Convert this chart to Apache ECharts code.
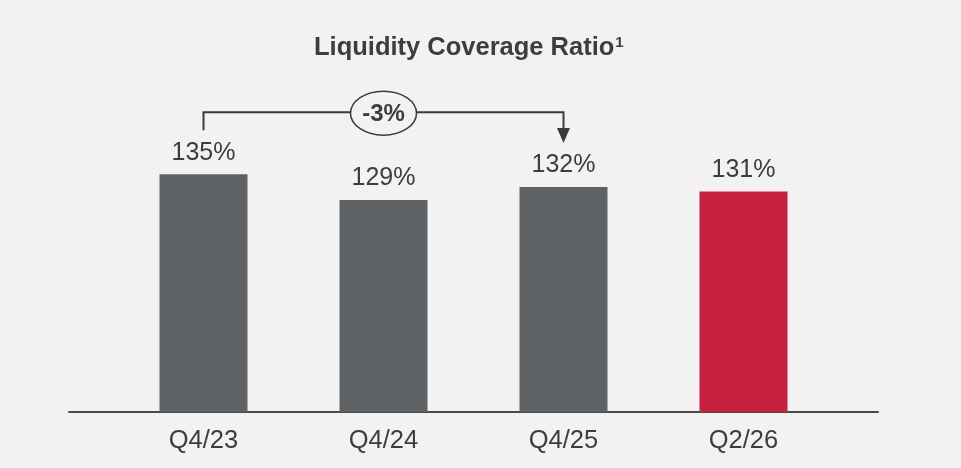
<!DOCTYPE html>
<html>
<head>
<meta charset="utf-8">
<script src="https://cdn.jsdelivr.net/npm/echarts@6/dist/echarts.min.js"></script>
<style>
    html, body { margin: 0; background: #f2f2f2; }
    #chart { width: 961px; height: 468px; }
</style>
</head>
<body>
<div id="chart"></div>
<script>
// data
const categories = ['Q4/23', 'Q4/24', 'Q4/25', 'Q2/26']
const ratios = [135, 129, 132, 131]
const highlight = [false, false, false, true]
const changeText = '-3%'
const changeFrom = 0
const changeTo = 2

const textColor = '#3c3d3f'
const font = '"Liberation Sans", Arial, sans-serif'

let chart = echarts.init(document.getElementById('chart'))

let option = {
    backgroundColor: '#f2f2f2',
    animation: false,
    title: {
        text: 'Liquidity Coverage Ratio{sup|1}',
        left: 309,
        top: 30,
        textStyle: {
            color: textColor, fontSize: 25.5, fontWeight: 'bold', fontFamily: font,
            rich: {
                sup: {color: textColor, fontSize: 15, fontWeight: 'bold', fontFamily: font,
                    verticalAlign: 'bottom', padding: [0, 0, 11, 1]}
            }
        }
    },
    grid: [
        {left: 113.5, right: 127.5, top: 66, bottom: 56},
        {left: 69, right: 83, top: 66, bottom: 56}
    ],
    xAxis: [
        {
            type: 'category',
            gridIndex: 0,
            data: categories,
            axisLine: {show: false},
            axisTick: {show: false},
            axisLabel: {color: textColor, fontSize: 25.5, fontFamily: font, margin: 16}
        },
        {
            type: 'value',
            gridIndex: 1,
            min: 0,
            max: 1,
            axisLine: {show: true, lineStyle: {color: '#4a4b4d', width: 2}},
            axisTick: {show: false},
            axisLabel: {show: false},
            splitLine: {show: false}
        }
    ],
    yAxis: [
        {type: 'value', gridIndex: 0, min: 80, max: 160, show: false},
        {type: 'value', gridIndex: 1, min: 0, max: 1, show: false}
    ],
    series: [
        {
            type: 'bar',
            xAxisIndex: 0,
            yAxisIndex: 0,
            barWidth: 88,
            z: 3,
            data: ratios.map((v, i) => ({
                value: v,
                itemStyle: {color: highlight[i] ? '#c81f3f' : '#5f6265'}
            })),
            label: {
                show: true,
                position: 'top',
                distance: 9,
                color: textColor,
                fontSize: 25,
                fontFamily: font,
                formatter: p => p.value + '%'
            }
        }
    ]
}
chart.setOption(option)

// bracket with change bubble
let p0 = chart.convertToPixel({gridIndex: 0}, [changeFrom, ratios[changeFrom]])
let p1 = chart.convertToPixel({gridIndex: 0}, [changeTo, ratios[changeTo]])
let topY = Math.min(p0[1], p1[1]) - 62
let startY = p0[1] - 44
let tipY = p1[1] - 44
let midX = (p0[0] + p1[0]) / 2
let lineColor = '#3a3b3d'

chart.setOption({
    graphic: [
        {
            type: 'polyline',
            z: 10,
            shape: {points: [[p0[0], startY], [p0[0], topY], [p1[0], topY], [p1[0], tipY - 12]]},
            style: {stroke: lineColor, lineWidth: 2, fill: null}
        },
        {
            type: 'polygon',
            z: 10,
            shape: {points: [[p1[0] - 6.5, tipY - 15], [p1[0] + 6.5, tipY - 15], [p1[0], tipY]]},
            style: {fill: lineColor}
        },
        {
            type: 'ellipse',
            z: 11,
            shape: {cx: midX, cy: topY + 1, rx: 33, ry: 22},
            style: {fill: '#f2f2f2', stroke: lineColor, lineWidth: 1.5}
        },
        {
            type: 'text',
            z: 12,
            x: midX,
            y: topY + 2,
            style: {
                text: changeText,
                fill: textColor,
                font: 'bold 24px ' + font,
                align: 'center',
                verticalAlign: 'middle'
            }
        }
    ]
})
</script>
</body>
</html>
